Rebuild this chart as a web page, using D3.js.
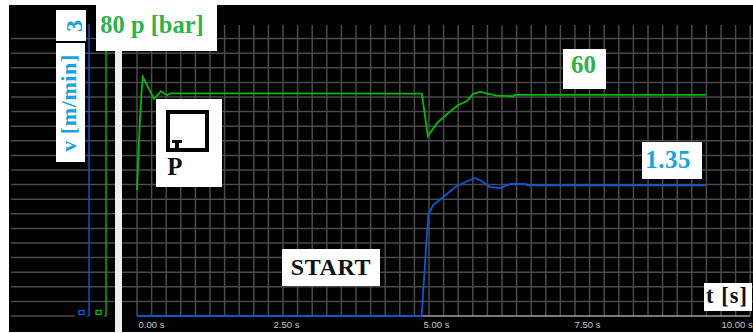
<!DOCTYPE html>
<html>
<head>
<meta charset="utf-8">
<script src="https://cdn.jsdelivr.net/npm/d3@7"></script>
<style>
html, body { margin: 0; padding: 0; background: #fff; }
svg { display: block; }
.lab { font-family: "Liberation Serif", serif; font-weight: bold; }
</style>
</head>
<body>
<svg id="chart"></svg>
<script>
// values
const pressureTime = [0, 0.01, 0.03, 0.05, 0.08, 0.10, 0.29, 0.41, 0.51, 0.57, 4.875, 4.90, 4.98, 5.14, 5.33, 5.50, 5.65, 5.75, 5.87, 6.16, 6.44, 6.47, 9.74];
const pressure = [34.5, 38, 46, 53.7, 61.9, 65.5, 59.5, 61.6, 60.5, 61, 60.9, 58.4, 49.3, 52.9, 55.6, 57.8, 58.9, 60.8, 61.4, 60.4, 60.2, 60.6, 60.6];
const speedTime = [0, 4.875, 4.89, 4.93, 4.96, 4.99, 5.07, 5.24, 5.45, 5.62, 5.79, 5.90, 6.04, 6.22, 6.39, 6.64, 6.70, 9.74];
const speed = [0, 0, 0.147, 0.524, 0.80, 1.04, 1.14, 1.22, 1.325, 1.377, 1.418, 1.387, 1.325, 1.315, 1.356, 1.356, 1.343, 1.343];
const timeTicks = [0, 2.5, 5, 7.5, 10];

const width = 753, height = 333;
const green = "#00bc00", blue = "#0a58d8", grid = "#4a4a4a";
const textGreen = "#2fb24c", textBlue = "#18a3e0", ink = "#111";

const svg = d3.select("#chart").attr("width", width).attr("height", height);

const x = d3.scaleLinear().domain([0, 10]).range([137, 721]);
const yP = d3.scaleLinear().domain([0, 80]).range([316, 24]);
const yV = d3.scaleLinear().domain([0, 3]).range([316, 24]);

// frame
svg.append("rect").attr("x", 9).attr("y", 5).attr("width", 744).attr("height", 327).attr("fill", "#000");

// horizontal grid, both panels
const hTicks = d3.range(0, 80, 4);
[[11, 115], [122, 753]].forEach(p => {
    svg.append("g").selectAll("line")
        .data(hTicks.filter(d => d > 0))
        .join("line")
        .attr("x1", p[0]).attr("x2", p[1])
        .attr("y1", d => yP(d)).attr("y2", d => yP(d))
        .attr("stroke", grid).attr("stroke-width", 1.5);
});
svg.append("line").attr("x1", 11).attr("x2", 75).attr("y1", yP(0)).attr("y2", yP(0)).attr("stroke", grid).attr("stroke-width", 1.5);

// vertical grid
svg.append("g").selectAll("line")
    .data(d3.range(0, 10.75, 0.25))
    .join("line")
    .attr("x1", d => x(d)).attr("x2", d => x(d))
    .attr("y1", 25).attr("y2", yP(0))
    .attr("stroke", grid).attr("stroke-width", 1.5);

// time axis, the labels do not sit evenly on their ticks in the original
const tickShift = [1, -10, -6, -1, 0];
const xAxis = d3.axisBottom(x).tickValues(timeTicks).tickSize(0).tickPadding(5)
    .tickFormat(d => d.toFixed(2) + " s");
const xg = svg.append("g").attr("transform", `translate(0,${yP(0)})`).call(xAxis);
xg.select(".domain").remove();
xg.selectAll("text")
    .attr("text-anchor", "start")
    .attr("dx", (d, i) => tickShift[i])
    .attr("font-family", "'Liberation Sans', sans-serif")
    .attr("font-size", 9.5)
    .attr("fill", "#c8c8c8");
svg.append("line").attr("x1", 137).attr("x2", 750).attr("y1", yP(0)).attr("y2", yP(0)).attr("stroke", "#a0a0a0").attr("stroke-width", 1.5);

// strip between the panels
svg.append("rect").attr("x", 115).attr("y", 5).attr("width", 7).attr("height", 327).attr("fill", "#eee");

// the two axes on the left
[[89, blue, yV], [106, green, yP]].forEach(a => {
    const s = a[2];
    const top = a[1] === blue ? s.range()[1] : 45;
    svg.append("line").attr("x1", a[0]).attr("x2", a[0]).attr("y1", top).attr("y2", s(0)).attr("stroke", a[1]).attr("stroke-width", 1.4);
    svg.append("line").attr("x1", a[0] - 2).attr("x2", a[0]).attr("y1", s(0)).attr("y2", s(0)).attr("stroke", a[1]).attr("stroke-width", 1.2);
    svg.append("rect").attr("x", a[0] - 10).attr("y", 310.5).attr("width", 5).attr("height", 4).attr("fill", "none").attr("stroke", a[1]).attr("stroke-width", 1.4);
});

// curves
const line = (xs, scale) => d3.line().x((d, i) => x(xs[i])).y(d => scale(d));
svg.append("path").attr("d", line(pressureTime, yP)(pressure)).attr("fill", "none").attr("stroke", green).attr("stroke-width", 1.8);
svg.append("path").attr("d", line(speedTime, yV)(speed)).attr("fill", "none").attr("stroke", blue).attr("stroke-width", 1.8);

// white label boxes
function box(bx, by, w, h) {
    svg.append("rect").attr("x", bx).attr("y", by).attr("width", w).attr("height", h).attr("fill", "#fff");
}
function label(t, tx, ty, size, color, rot, spacing) {
    svg.append("text").attr("class", "lab")
        .attr("transform", `translate(${tx},${ty})` + (rot ? " rotate(-90)" : ""))
        .attr("text-anchor", "middle")
        .attr("letter-spacing", spacing || 0)
        .attr("font-size", size).attr("fill", color).text(t);
}
box(56, 10, 30, 31);
label("3", 82, 26, 24, textBlue, true);
box(56, 43, 29, 119);
label("v [m/min]", 76, 103, 22, textBlue, true, 0.6);
box(96, 5, 121, 46);
label("80 p [bar]", 152, 33, 24.5, textGreen);
box(563, 49, 43, 40);
label("60", 583.5, 73, 25, textGreen);
box(642, 142, 60, 37);
label("1.35", 668, 168, 25, textBlue, false, 0.5);
box(282, 249, 98, 37);
label("START", 331, 275, 24, ink, false, 0.6);
box(704, 283, 48, 28);
label("t [s]", 727, 303, 22.5, ink, false, 1);

// pressure port sketch
box(156, 99, 66, 88);
svg.append("rect").attr("x", 168).attr("y", 112).attr("width", 39).attr("height", 38).attr("fill", "none").attr("stroke", "#000").attr("stroke-width", 4);
svg.append("line").attr("x1", 172).attr("x2", 182).attr("y1", 141.5).attr("y2", 141.5).attr("stroke", "#000").attr("stroke-width", 3);
svg.append("line").attr("x1", 177).attr("x2", 177).attr("y1", 141).attr("y2", 150).attr("stroke", "#000").attr("stroke-width", 4);
label("P", 175, 175, 25, ink);
</script>
</body>
</html>
